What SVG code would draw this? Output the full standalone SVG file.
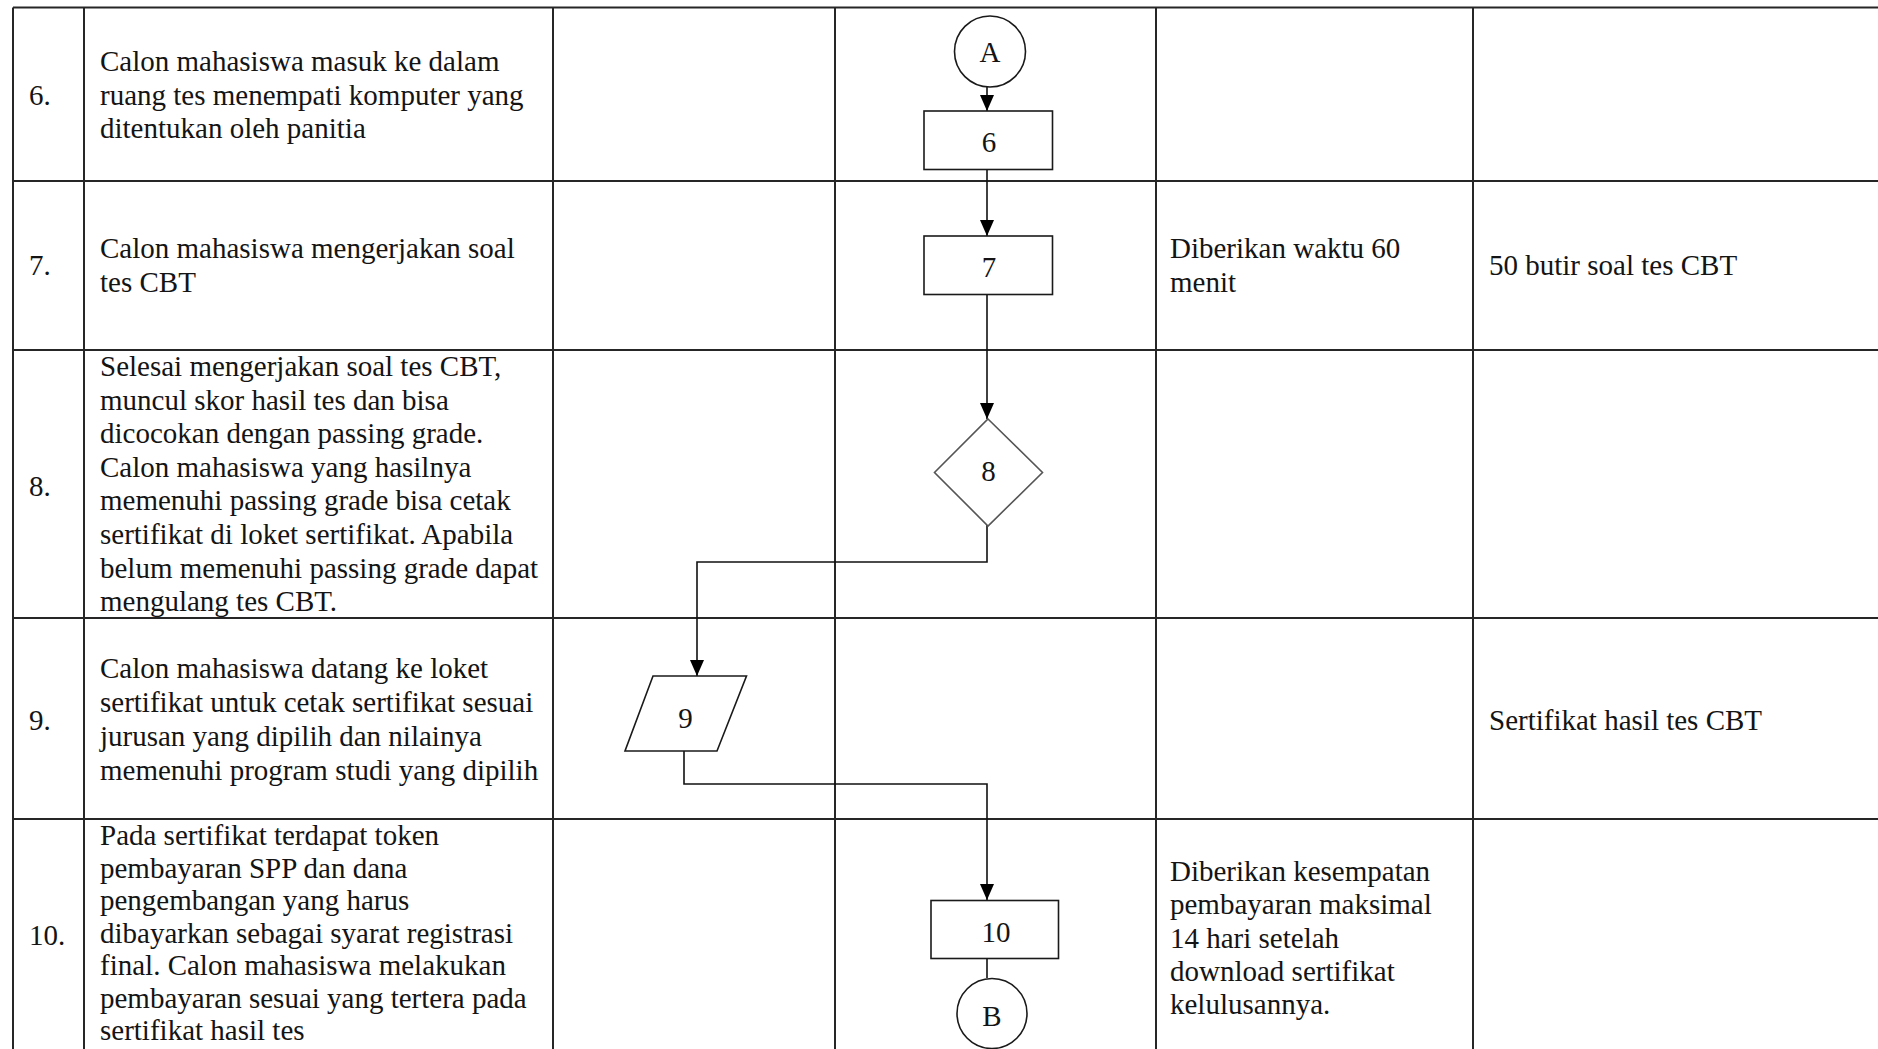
<svg xmlns="http://www.w3.org/2000/svg" width="1878" height="1049" viewBox="0 0 1878 1049">
<defs>
<marker id="arr" viewBox="0 0 16 14" refX="16" refY="7" markerWidth="16" markerHeight="14" markerUnits="userSpaceOnUse" orient="auto">
<path d="M0,0 L16,7 L0,14 Z" fill="#000"/>
</marker>
<style>
.grid{stroke:#262626;stroke-width:2;fill:none}
.t{font-family:"Liberation Serif","Times New Roman",serif;font-size:29px;fill:#141414}
.lbl{font-family:"Liberation Serif","Times New Roman",serif;font-size:29px;fill:#141414;text-anchor:middle}
.shape{fill:#fff;stroke:#1a1a1a;stroke-width:1.6}
.dia{fill:#fff;stroke:#555;stroke-width:1.6}
.con{fill:none;stroke:#111;stroke-width:1.6}
</style>
</defs>
<rect x="0" y="0" width="1878" height="1049" fill="#fff"/>
<g id="table">
<line class="grid" x1="13" y1="7.5" x2="1878" y2="7.5"/>
<line class="grid" x1="13" y1="181" x2="1878" y2="181"/>
<line class="grid" x1="13" y1="350" x2="1878" y2="350"/>
<line class="grid" x1="13" y1="618" x2="1878" y2="618"/>
<line class="grid" x1="13" y1="819" x2="1878" y2="819"/>
<line class="grid" x1="13" y1="7.5" x2="13" y2="1049"/>
<line class="grid" x1="84" y1="7.5" x2="84" y2="1049"/>
<line class="grid" x1="553" y1="7.5" x2="553" y2="1049"/>
<line class="grid" x1="835" y1="7.5" x2="835" y2="1049"/>
<line class="grid" x1="1156" y1="7.5" x2="1156" y2="1049"/>
<line class="grid" x1="1473" y1="7.5" x2="1473" y2="1049"/>
</g>
<g id="row6-text">
<text class="t" x="29" y="104.5">6.</text>
<text class="t" x="100" y="71">Calon mahasiswa masuk ke dalam</text>
<text class="t" x="100" y="104.5">ruang tes menempati komputer yang</text>
<text class="t" x="100" y="138">ditentukan oleh panitia</text>
</g>
<g id="row7-text">
<text class="t" x="29" y="275">7.</text>
<text class="t" x="100" y="258">Calon mahasiswa mengerjakan soal</text>
<text class="t" x="100" y="291.5">tes CBT</text>
<text class="t" x="1170" y="258">Diberikan waktu 60</text>
<text class="t" x="1170" y="291.5">menit</text>
<text class="t" x="1489" y="275">50 butir soal tes CBT</text>
</g>
<g id="row8-text">
<text class="t" x="29" y="496">8.</text>
<text class="t" x="100" y="376">Selesai mengerjakan soal tes CBT,</text>
<text class="t" x="100" y="409.6">muncul skor hasil tes dan bisa</text>
<text class="t" x="100" y="443.2">dicocokan dengan passing grade.</text>
<text class="t" x="100" y="476.8">Calon mahasiswa yang hasilnya</text>
<text class="t" x="100" y="510.4">memenuhi passing grade bisa cetak</text>
<text class="t" x="100" y="544">sertifikat di loket sertifikat. Apabila</text>
<text class="t" x="100" y="577.6">belum memenuhi passing grade dapat</text>
<text class="t" x="100" y="611.2">mengulang tes CBT.</text>
</g>
<g id="row9-text">
<text class="t" x="29" y="730">9.</text>
<text class="t" x="100" y="678">Calon mahasiswa datang ke loket</text>
<text class="t" x="100" y="712">sertifikat untuk cetak sertifikat sesuai</text>
<text class="t" x="100" y="745.5">jurusan yang dipilih dan nilainya</text>
<text class="t" x="100" y="779.5">memenuhi program studi yang dipilih</text>
<text class="t" x="1489" y="730">Sertifikat hasil tes CBT</text>
</g>
<g id="row10-text">
<text class="t" x="29" y="945">10.</text>
<text class="t" x="100" y="845">Pada sertifikat terdapat token</text>
<text class="t" x="100" y="877.5">pembayaran SPP dan dana</text>
<text class="t" x="100" y="910">pengembangan yang harus</text>
<text class="t" x="100" y="942.5">dibayarkan sebagai syarat registrasi</text>
<text class="t" x="100" y="975">final. Calon mahasiswa melakukan</text>
<text class="t" x="100" y="1007.5">pembayaran sesuai yang tertera pada</text>
<text class="t" x="100" y="1040">sertifikat hasil tes</text>
<text class="t" x="1170" y="881">Diberikan kesempatan</text>
<text class="t" x="1170" y="914">pembayaran maksimal</text>
<text class="t" x="1170" y="947.5">14 hari setelah</text>
<text class="t" x="1170" y="981">download sertifikat</text>
<text class="t" x="1170" y="1014">kelulusannya.</text>
</g>
<g id="connectors">
<line class="con" x1="987" y1="87" x2="987" y2="111" marker-end="url(#arr)"/>
<line class="con" x1="987" y1="169" x2="987" y2="236" marker-end="url(#arr)"/>
<line class="con" x1="987" y1="295" x2="987" y2="419" marker-end="url(#arr)"/>
<polyline class="con" points="987,525 987,562 697,562 697,676" marker-end="url(#arr)"/>
<polyline class="con" points="684,751 684,784 987,784 987,900" marker-end="url(#arr)"/>
<line class="con" x1="987" y1="958" x2="987" y2="978"/>
</g>
<g id="node-A">
<circle class="shape" cx="990" cy="51.5" r="35.5"/>
<text class="lbl" x="990" y="61.5">A</text>
</g>
<g id="node-6">
<rect class="shape" x="924" y="111" width="128.5" height="58.5"/>
<text class="lbl" x="989" y="152">6</text>
</g>
<g id="node-7">
<rect class="shape" x="924" y="236" width="128.5" height="58.5"/>
<text class="lbl" x="989" y="277">7</text>
</g>
<g id="node-8">
<polygon class="dia" points="988,419 1042.5,472.5 988,526 934.5,472.5"/>
<text class="lbl" x="988.5" y="481">8</text>
</g>
<g id="node-9">
<polygon class="shape" points="653,676 746.5,676 717,751 625,751"/>
<text class="lbl" x="685.5" y="727.5">9</text>
</g>
<g id="node-10">
<rect class="shape" x="931" y="900.5" width="127.5" height="58"/>
<text class="lbl" x="996" y="941.5">10</text>
</g>
<g id="node-B">
<circle class="shape" cx="992" cy="1013.5" r="35"/>
<text class="lbl" x="992" y="1026">B</text>
</g>
</svg>
